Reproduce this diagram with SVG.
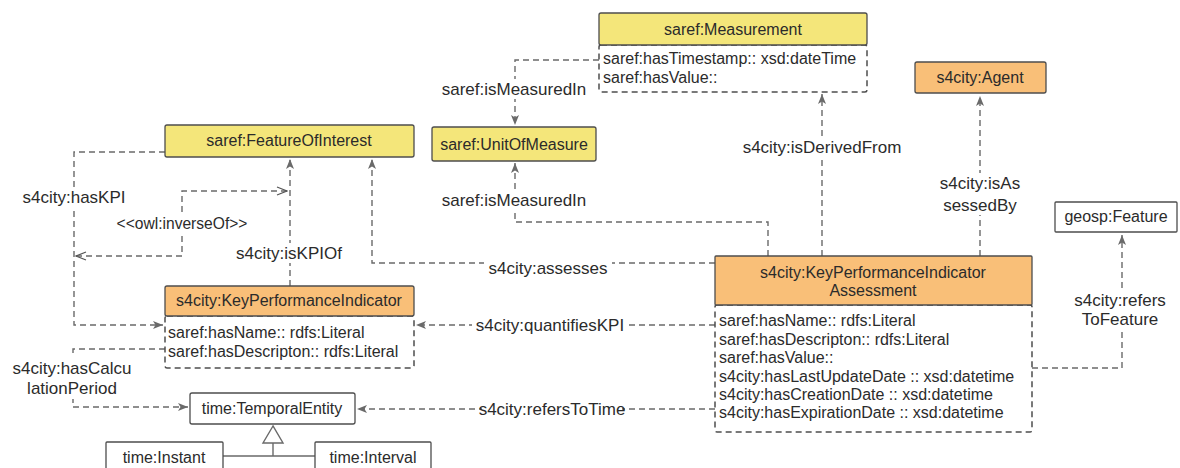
<svg xmlns="http://www.w3.org/2000/svg" width="1180" height="468" viewBox="0 0 1180 468">
<style>
text{font-family:"Liberation Sans",Arial,Helvetica,sans-serif;fill:#2b2b2b}
.t{font-size:16px;text-anchor:middle}
.b{font-size:16px}
.l{font-size:17px;text-anchor:middle;dominant-baseline:central}
.inv{font-size:15.6px;text-anchor:middle;dominant-baseline:central}
.hy{fill:#f4e67a;stroke:#4d4d4d;stroke-width:1.3}
.ho{fill:#f9bf78;stroke:#4d4d4d;stroke-width:1.3}
.hw{fill:#ffffff;stroke:#4d4d4d;stroke-width:1.3}
.body{fill:#ffffff;stroke:#4d4d4d;stroke-width:1.5;stroke-dasharray:6 4}
.c{fill:none;stroke:#6a6a6a;stroke-width:1.4;stroke-dasharray:6 4}
.s{fill:none;stroke:#6a6a6a;stroke-width:1.4}
.bg{fill:#ffffff}
</style>
<defs>
<marker id="arr" viewBox="0 0 10 8" refX="10" refY="4" markerWidth="10" markerHeight="8" markerUnits="userSpaceOnUse" orient="auto">
<path d="M0,0 L10,4 L0,8 L2.5,4 Z" fill="#6a6a6a" stroke="none"/>
</marker>
<marker id="open" viewBox="0 0 12 10" refX="11" refY="5" markerWidth="12" markerHeight="10" markerUnits="userSpaceOnUse" orient="auto-start-reverse">
<path d="M1,1 L11,5 L1,9" fill="none" stroke="#555" stroke-width="1.3"/>
</marker>
</defs>
<rect width="1180" height="468" fill="#ffffff"/>

<g id="connectors">
<path class="c" d="M599,60 H515 V125" marker-end="url(#arr)"/>
<path class="c" d="M768,256 V222 H515 V163" marker-end="url(#arr)"/>
<path class="c" d="M822,256 V94" marker-end="url(#arr)"/>
<path class="c" d="M980,256 V96" marker-end="url(#arr)"/>
<path class="c" d="M1032,368 H1122 V235" marker-end="url(#arr)"/>
<path class="c" d="M715,263 H372 V159" marker-end="url(#arr)"/>
<path class="c" d="M290,286 V159" marker-end="url(#arr)"/>
<path class="c" d="M165,152 H74 V325 H163" marker-end="url(#arr)"/>
<path class="c" d="M287,191 H182 V256 H76" marker-start="url(#open)" marker-end="url(#open)"/>
<path class="c" d="M715,325 H416" marker-end="url(#arr)"/>
<path class="c" d="M715,409 H357" marker-end="url(#arr)"/>
<path class="c" d="M165,349 H73 V407 H188" marker-end="url(#arr)"/>
<path class="s" d="M273,443 V456 M223,456 H315"/>
<polygon points="273,426 263,443 283,443" fill="#ffffff" stroke="#6a6a6a" stroke-width="1.4"/>

<rect class="bg" x="439" y="79" width="150" height="20"/>
<text class="l" x="514" y="89">saref:isMeasuredIn</text>
<rect class="bg" x="439" y="190" width="150" height="20"/>
<text class="l" x="514" y="200">saref:isMeasuredIn</text>
<rect class="bg" x="738" y="137" width="168" height="20"/>
<text class="l" x="822" y="147">s4city:isDerivedFrom</text>
<rect class="bg" x="936" y="173" width="88" height="42"/>
<text class="l" x="980" y="183">s4city:isAs</text>
<text class="l" x="980" y="205">sessedBy</text>
<rect class="bg" x="1072" y="290" width="98" height="40"/>
<text class="l" x="1120" y="300">s4city:refers</text>
<text class="l" x="1120" y="319">ToFeature</text>
<rect class="bg" x="484" y="258" width="128" height="20"/>
<text class="l" x="548" y="268">s4city:assesses</text>
<rect class="bg" x="232" y="243" width="114" height="20"/>
<text class="l" x="289" y="253">s4city:isKPIOf</text>
<rect class="bg" x="20" y="187" width="108" height="20"/>
<text class="l" x="74" y="197">s4city:hasKPI</text>
<rect class="bg" x="110" y="214" width="144" height="18"/>
<text class="inv" x="182" y="223">&lt;&lt;owl:inverseOf&gt;&gt;</text>
<rect class="bg" x="472" y="315" width="156" height="20"/>
<text class="l" x="550" y="325">s4city:quantifiesKPI</text>
<rect class="bg" x="482" y="399" width="140" height="20"/>
<text class="l" x="552" y="409">s4city:refersToTime</text>
<rect class="bg" x="10" y="357" width="125" height="42"/>
<text class="l" x="72" y="368">s4city:hasCalcu</text>
<text class="l" x="72" y="388">lationPeriod</text>
</g>

<g id="measurement">
<rect class="body" x="599" y="45" width="268" height="47" rx="2"/>
<rect class="hy" x="599" y="13" width="268" height="32" rx="2"/>
<text class="t" x="733" y="35">saref:Measurement</text>
<text class="b" x="603" y="64">saref:hasTimestamp:: xsd:dateTime</text>
<text class="b" x="603" y="83">saref:hasValue::</text>
</g>

<g id="unitofmeasure">
<rect class="hy" x="432" y="127" width="164" height="34" rx="2"/>
<text class="t" x="514" y="150">saref:UnitOfMeasure</text>
</g>

<g id="agent">
<rect class="ho" x="915" y="62" width="131" height="31" rx="2"/>
<text class="t" x="980" y="83">s4city:Agent</text>
</g>

<g id="featureofinterest">
<rect class="hy" x="165" y="125" width="249" height="32" rx="2"/>
<text class="t" x="289" y="146">saref:FeatureOfInterest</text>
</g>

<g id="geospfeature">
<rect class="hw" x="1055" y="202" width="122" height="30" rx="1"/>
<text class="t" x="1116" y="222">geosp:Feature</text>
</g>

<g id="kpi">
<rect class="body" x="165" y="316" width="249" height="52" rx="2"/>
<rect class="ho" x="165" y="286" width="249" height="30" rx="2"/>
<text class="t" x="289" y="306">s4city:KeyPerformanceIndicator</text>
<text class="b" x="168" y="338">saref:hasName:: rdfs:Literal</text>
<text class="b" x="168" y="357">saref:hasDescripton:: rdfs:Literal</text>
</g>

<g id="kpiassessment">
<rect class="body" x="715" y="305" width="317" height="127" rx="2"/>
<rect class="ho" x="715" y="256" width="317" height="49" rx="1"/>
<text class="t" x="873" y="278">s4city:KeyPerformanceIndicator</text>
<text class="t" x="873" y="296">Assessment</text>
<text class="b" x="719" y="326">saref:hasName:: rdfs:Literal</text>
<text class="b" x="719" y="345">saref:hasDescripton:: rdfs:Literal</text>
<text class="b" x="719" y="363">saref:hasValue::</text>
<text class="b" x="719" y="382">s4city:hasLastUpdateDate :: xsd:datetime</text>
<text class="b" x="719" y="400">s4city:hasCreationDate :: xsd:datetime</text>
<text class="b" x="719" y="418">s4city:hasExpirationDate :: xsd:datetime</text>
</g>

<g id="temporalentity">
<rect class="hw" x="190" y="393" width="165" height="31" rx="2"/>
<text class="t" x="272" y="414">time:TemporalEntity</text>
</g>

<g id="instant">
<rect class="hw" x="106" y="442" width="117" height="36" rx="1"/>
<text class="t" x="164" y="463">time:Instant</text>
</g>

<g id="interval">
<rect class="hw" x="315" y="442" width="116" height="36" rx="1"/>
<text class="t" x="373" y="463">time:Interval</text>
</g>
</svg>
